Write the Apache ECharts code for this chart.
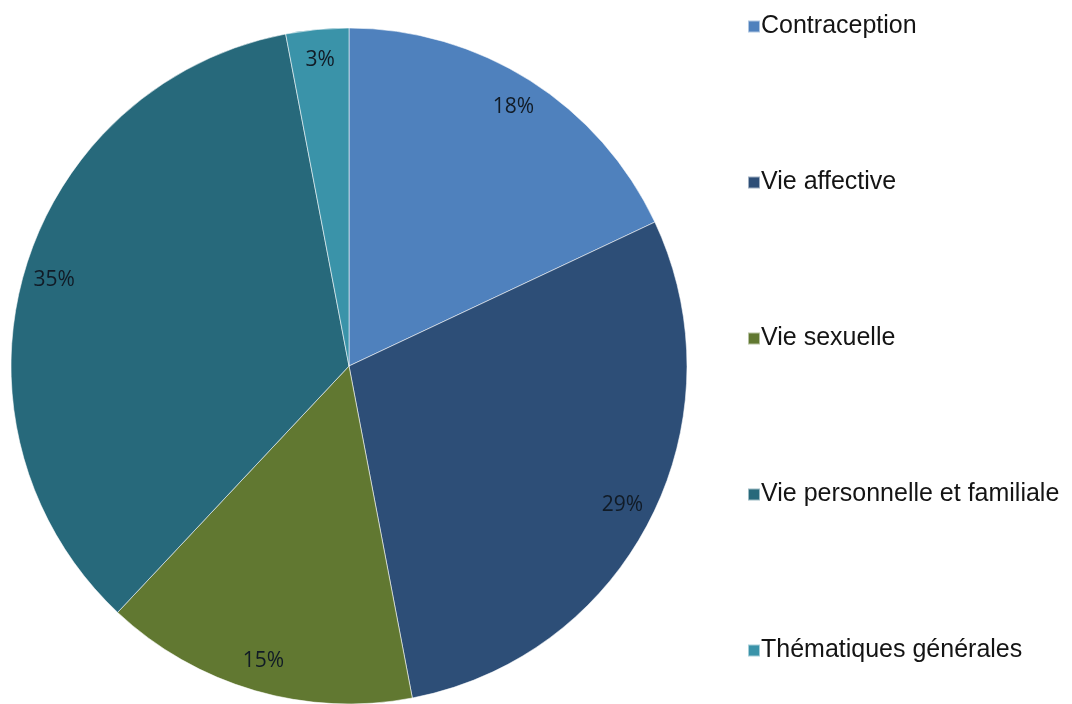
<!DOCTYPE html>
<html>
<head>
<meta charset="utf-8">
<script src="https://cdn.jsdelivr.net/npm/echarts@6/dist/echarts.min.js"></script>
<style>
  html, body { margin: 0; padding: 0; background: #ffffff; }
  #chart { width: 1072px; height: 704px; }
</style>
</head>
<body>
<div id="chart"></div>
<script>
// Répartition des thématiques abordées (en %)
const categories = ['Contraception', 'Vie affective', 'Vie sexuelle', 'Vie personnelle et familiale', 'Thématiques générales'];
const shares = [18, 29, 15, 35, 3];
const sliceColors = ['#4f81bd', '#2d4e77', '#617831', '#27697b', '#3a93a9'];

const pieData = categories.map((name, i) => ({ name, value: shares[i] }));

const chart = echarts.init(document.getElementById('chart'), null, { renderer: 'canvas' });

const center = [349, 366];
const outerR = 338;

chart.setOption({
  animation: false,
  color: sliceColors,
  legend: {
    orient: 'vertical',
    left: 742,
    top: 9,
    itemWidth: 12,
    itemHeight: 12,
    itemGap: 131,
    icon: 'rect',
    textStyle: {
      fontFamily: 'Liberation Sans, Arial, sans-serif',
      fontSize: 25,
      lineHeight: 25,
      color: '#141414',
      padding: [0, 0, 0, -4]
    },
    data: categories
  },
  series: [
    {
      type: 'pie',
      center: center,
      radius: [0, outerR],
      startAngle: 90,
      clockwise: true,
      silent: true,
      label: { show: false },
      labelLine: { show: false },
      itemStyle: { borderColor: 'rgba(255,255,255,0.55)', borderWidth: 1 },
      data: pieData
    },
    {
      // transparent ring carrying the percentage labels near the rim
      type: 'pie',
      center: center,
      radius: [270, outerR],
      startAngle: 90,
      clockwise: true,
      silent: true,
      legendHoverLink: false,
      itemStyle: { color: 'rgba(0,0,0,0)', borderWidth: 0 },
      label: {
        show: true,
        position: 'inside',
        formatter: p => p.value + '%',
        fontFamily: 'Open Sans, Lato, sans-serif',
        fontSize: 21,
        color: '#111b26'
      },
      labelLine: { show: false },
      data: pieData
    }
  ]
});
</script>
</body>
</html>
